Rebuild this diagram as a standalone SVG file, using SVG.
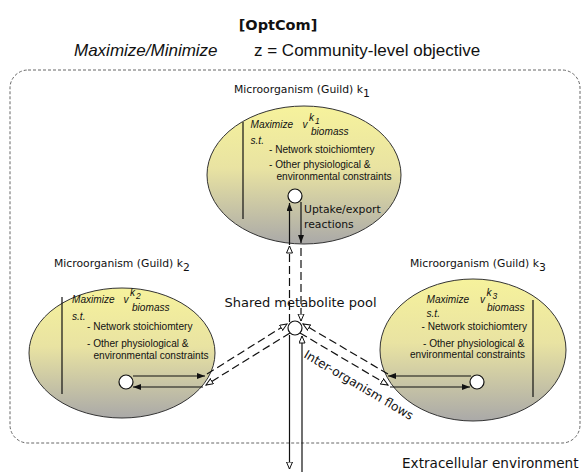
<svg xmlns="http://www.w3.org/2000/svg" width="582" height="472" viewBox="0 0 582 472">
<style>
.title{font-family:"DejaVu Sans",sans-serif;font-weight:bold;font-size:14.5px;fill:#111}
.obj{font-family:"Liberation Sans",Arial,sans-serif;font-size:17px;fill:#111}
.lbl{font-family:"DejaVu Sans",sans-serif;font-size:10.8px;fill:#111}
.big{font-family:"DejaVu Sans",sans-serif;font-size:13px;fill:#111}
.in{font-family:"Liberation Sans",Arial,sans-serif;font-size:10.1px;fill:#111}
.it{font-style:italic}
.sm{font-size:8.5px}
.ell{fill:url(#g);stroke:#333;stroke-width:1}
.dot{fill:#fff;stroke:#111;stroke-width:1.2}
.bar{stroke:#111;stroke-width:1.2}
.sol{stroke:#111;stroke-width:1.2;fill:none}
.dsh{stroke:#111;stroke-width:1.2;fill:none;stroke-dasharray:8,4}
.fa{marker-end:url(#fa)}
.oa{marker-end:url(#oa)}
</style>
<defs>
<linearGradient id="g" x1="0" y1="0" x2="0" y2="1">
<stop offset="0" stop-color="#f6f29c"/>
<stop offset="0.45" stop-color="#e9e3a2"/>
<stop offset="1" stop-color="#aaa9a8"/>
</linearGradient>
<marker id="fa" markerUnits="userSpaceOnUse" markerWidth="9" markerHeight="7" refX="8" refY="3" orient="auto">
<path d="M0,0 L8,3 L0,6 z" fill="#111"/>
</marker>
<marker id="oa" markerUnits="userSpaceOnUse" markerWidth="10" markerHeight="8" refX="7.5" refY="3.5" orient="auto">
<path d="M0.5,0.5 L7.5,3.5 L0.5,6.5 z" fill="#fff" stroke="#111" stroke-width="1"/>
</marker>
</defs>

<text class="title" x="278" y="30" text-anchor="middle">[OptCom]</text>
<text class="obj it" x="74" y="56">Maximize/Minimize</text>
<text class="obj" x="254" y="56">z = Community-level objective</text>

<rect x="10" y="70" width="570" height="373" rx="18" ry="18" fill="none" stroke="#666" stroke-width="1" stroke-dasharray="3,2"/>

<g id="k1">
<text class="lbl" x="234" y="93">Microorganism (Guild) k<tspan dy="4">1</tspan></text>
<ellipse class="ell" cx="304" cy="175" rx="97" ry="69"/>
<line class="bar" x1="243" y1="122" x2="243" y2="219"/>
<text class="in it" x="250.5" y="128">Maximize</text>
<text class="in it" x="302.5" y="128">v</text>
<text class="in it" x="309" y="121">k</text>
<text class="in it sm" x="315" y="124">1</text>
<text class="in it" x="311" y="135">biomass</text>
<text class="in it" x="250.5" y="144">s.t.</text>
<text class="in" x="269" y="153">- Network stoichiomtery</text>
<text class="in" x="269" y="168">- Other physiological &amp;</text>
<text class="in" x="276.5" y="180">environmental constraints</text>
<circle class="dot" cx="295" cy="196" r="7"/>
<text class="lbl" x="304" y="213">Uptake/export</text>
<text class="lbl" x="304" y="228">reactions</text>
</g>

<g id="k2">
<text class="lbl" x="54" y="267">Microorganism (Guild) k<tspan dy="4">2</tspan></text>
<ellipse class="ell" cx="122" cy="353" rx="93" ry="65"/>
<line class="bar" x1="62" y1="297" x2="62" y2="394"/>
<text class="in it" x="72" y="303">Maximize</text>
<text class="in it" x="123.5" y="303">v</text>
<text class="in it" x="130" y="296">k</text>
<text class="in it sm" x="136" y="299">2</text>
<text class="in it" x="132" y="311">biomass</text>
<text class="in it" x="72" y="320">s.t.</text>
<text class="in" x="87" y="330">- Network stoichiomtery</text>
<text class="in" x="87" y="347">- Other physiological &amp;</text>
<text class="in" x="93.5" y="359">environmental constraints</text>
<circle class="dot" cx="126" cy="382" r="7"/>
</g>

<g id="k3">
<text class="lbl" x="410" y="267">Microorganism (Guild) k<tspan dy="4">3</tspan></text>
<ellipse class="ell" cx="473" cy="350" rx="93" ry="71"/>
<line class="bar" x1="533" y1="300" x2="533" y2="397"/>
<text class="in it" x="426.5" y="303">Maximize</text>
<text class="in it" x="480" y="303">v</text>
<text class="in it" x="486.5" y="296">k</text>
<text class="in it sm" x="492.5" y="299">3</text>
<text class="in it" x="487" y="311">biomass</text>
<text class="in it" x="426.5" y="317">s.t.</text>
<text class="in" x="421.5" y="330">- Network stoichiomtery</text>
<text class="in" x="423" y="346.5">- Other physiological &amp;</text>
<text class="in" x="410" y="358">environmental constraints</text>
<circle class="dot" cx="477" cy="382" r="7"/>
</g>

<g id="pool">
<text class="big" x="300.5" y="307" text-anchor="middle">Shared metabolite pool</text>
<circle class="dot" cx="295" cy="328" r="7"/>
</g>

<g id="connectors">
<line class="sol fa" x1="289.5" y1="245" x2="289.5" y2="203"/>
<line class="sol fa" x1="301" y1="202" x2="301" y2="243"/>
<line class="dsh oa" x1="289.5" y1="322" x2="289.5" y2="246"/>
<line class="dsh oa" x1="301" y1="248" x2="301" y2="321"/>

<line class="sol fa" x1="133" y1="376" x2="205" y2="376"/>
<line class="sol fa" x1="203" y1="387" x2="133" y2="387"/>
<line class="dsh oa" x1="207" y1="374" x2="287" y2="324"/>
<line class="dsh oa" x1="290" y1="333" x2="206" y2="385"/>

<line class="sol fa" x1="471" y1="376" x2="388" y2="376"/>
<line class="sol fa" x1="390" y1="387" x2="470" y2="387"/>
<line class="dsh oa" x1="388" y1="374" x2="303" y2="324"/>
<line class="dsh oa" x1="300" y1="333" x2="388" y2="385"/>

<line class="sol oa" x1="289.5" y1="335" x2="289.5" y2="469"/>
<line class="sol oa" x1="302" y1="472" x2="302" y2="336"/>

<text class="big" x="303" y="357" font-size="12.2" transform="rotate(30.5 303 357)" style="font-size:12.2px">Inter-organism flows</text>
</g>

<text class="big" x="402" y="468" style="font-size:13.6px">Extracellular environment</text>
</svg>
